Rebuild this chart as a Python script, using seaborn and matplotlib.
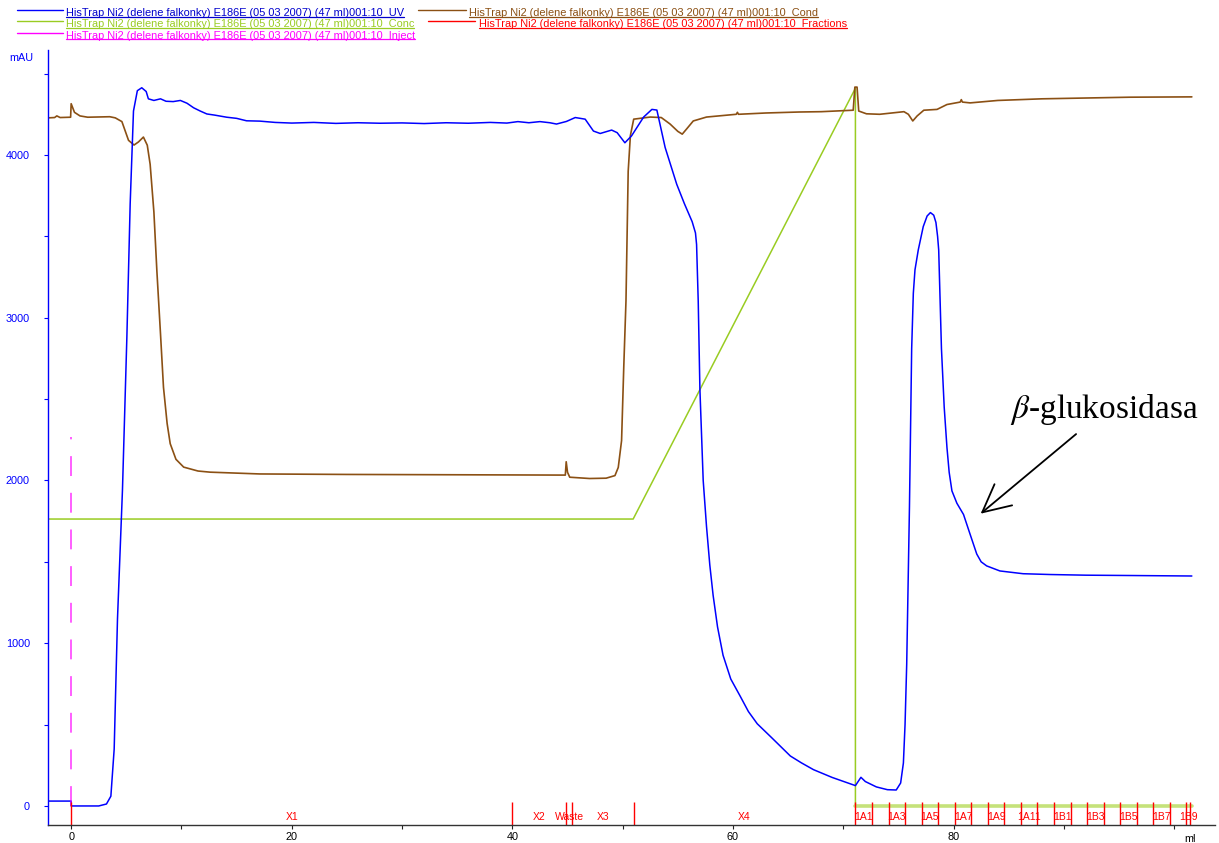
import matplotlib
matplotlib.use("Agg")
import matplotlib.pyplot as plt
from matplotlib.lines import Line2D
from matplotlib.ticker import MultipleLocator, FuncFormatter
import matplotlib.transforms as mtransforms
import seaborn as sns

# chromatogram traces (ml, mAU)
uv_ml = [-2.1, 0.0, 0.0, 2.5, 3.2, 3.6, 3.9, 4.2, 4.65, 5.05, 5.35, 5.65, 6.0, 6.4, 6.8,
         7.0, 7.5, 8.1, 8.6, 9.25, 9.9, 10.5, 11.1, 11.7, 12.3, 13.0, 14.1, 15.0, 15.9,
         17.1, 18.5, 20, 22, 24, 26, 28, 30, 32, 34, 36, 38, 39.5, 40.5, 41.5, 42.5,
         43.4, 44.0, 44.9, 45.7, 46.6, 47.35, 47.96, 49.0, 49.5, 50.2, 50.8, 51.9,
         52.65, 53.1, 53.85, 54.9, 55.6, 56.3, 56.6, 56.7, 56.85, 57.0, 57.3, 57.6,
         57.9, 58.2, 58.6, 59.1, 59.8, 60.65, 61.4, 62.2, 63.5, 65.2, 66.2, 67.3, 69.0,
         71.1, 71.6, 72.0, 73.0, 74.0, 74.8, 75.2, 75.45, 75.6, 75.75, 76.0, 76.2,
         76.35, 76.5, 76.8, 77.25, 77.6, 77.9, 78.2, 78.4, 78.55, 78.65, 78.9, 79.15,
         79.4, 79.6, 79.85, 80.3, 80.9, 81.2, 81.5, 82.1, 82.5, 83.0, 84.2, 86.3, 88.8,
         92, 96, 101.6]
uv_mau = [30, 30, 0, 0, 12, 60, 350, 1150, 1940, 2880, 3700, 4270, 4395, 4413, 4390,
          4345, 4335, 4345, 4330, 4328, 4335, 4318, 4290, 4270, 4252, 4245, 4232, 4225,
          4210, 4208, 4200, 4196, 4200, 4194, 4198, 4195, 4197, 4193, 4198, 4195, 4200,
          4196, 4205, 4198, 4205, 4198, 4190, 4206, 4230, 4220, 4147, 4132, 4153, 4137,
          4075, 4117, 4233, 4280, 4276, 4046, 3820, 3700, 3590, 3521, 3450, 3100, 2564,
          2000, 1718, 1480, 1294, 1100, 926, 780, 675, 580, 505, 420, 307, 265, 223, 175,
          125, 176, 150, 117, 100, 98, 141, 264, 500, 871, 1840, 2810, 3150, 3294, 3417,
          3560, 3625, 3646, 3630, 3585, 3500, 3417, 2810, 2450, 2202, 2050, 1936, 1860,
          1791, 1730, 1669, 1548, 1500, 1475, 1444, 1427, 1422, 1418, 1416, 1413]

cond_ml = [-2.1, -1.5, -1.3, -1.0, -0.05, 0.0, 0.3, 0.8, 1.5, 3.5, 4.0, 4.6, 5.2, 5.7,
           6.1, 6.55, 6.9, 7.16, 7.5, 7.77, 8.1, 8.37, 8.7, 8.98, 9.5, 10.2, 11.5, 12.6,
           17.1, 25, 35, 44.8, 44.88, 45.0, 45.2, 47, 48.5, 49.3, 49.6, 49.9, 50.1, 50.3,
           50.5, 50.7, 51.0, 52.5, 53.5, 54.3, 55.0, 55.4, 55.8, 56.4, 57.6, 60.3, 60.4,
           60.5, 63, 66, 68, 70.9, 71.05, 71.25, 71.4, 72.1, 73.3, 75.5, 75.9, 76.3, 76.7,
           77.3, 78.5, 79.4, 80.6, 80.7, 80.8, 81.5, 84, 88, 92, 96, 101.6]
cond_mau = [4228, 4230, 4240, 4230, 4232, 4315, 4262, 4240, 4232, 4235, 4228, 4205,
            4090, 4061, 4080, 4110, 4060, 3943, 3650, 3288, 2900, 2572, 2350, 2226, 2130,
            2082, 2058, 2051, 2040, 2037, 2035, 2033, 2115, 2050, 2020, 2012, 2014, 2030,
            2080, 2245, 2700, 3104, 3900, 4120, 4220, 4233, 4230, 4190, 4145, 4128, 4160,
            4209, 4233, 4250, 4262, 4250, 4258, 4264, 4266, 4275, 4417, 4417, 4270, 4253,
            4250, 4266, 4250, 4209, 4240, 4275, 4280, 4310, 4325, 4340, 4325, 4320, 4335,
            4345, 4350, 4355, 4357]

conc_ml = [-2.1, 50.95, 71.1, 71.1, 101.6]
conc_mau = [1763, 1763, 4410, 0, 0]

inject_ml = [0.0, 0.0]
inject_mau = [0, 2270]

frac_ml = [0.0, 40.0, 44.9, 45.4, 51.0,
           71.1, 72.6, 74.1, 75.6, 77.1, 78.6, 80.1, 81.6, 83.1, 84.6, 86.1,
           87.6, 89.1, 90.6, 92.1, 93.6, 95.1, 96.6, 98.1, 99.6, 101.1, 101.45]
frac_names = ['X1', 'X2', 'Waste', 'X3', 'X4',
              '1A1', '', '1A3', '', '1A5', '', '1A7', '', '1A9', '', '1A11', '',
              '1B1', '', '1B3', '', '1B5', '', '1B7', '', '1B9']

run_name = "HisTrap Ni2 (delene falkonky) E186E (05 03 2007) (47 ml)001:10  "
legend_curves = ["UV", "Cond", "Conc", "Fractions", "Inject"]

BLUE = "#0000ff"
BROWN = "#8b5014"
GREEN = "#99cc22"
RED = "#ff0000"
MAGENTA = "#ff00ff"

W, H = 1219, 843
YMIN, YMAX = -117, 4645

sns.set_style("white")
plt.rcParams['font.family'] = ['Liberation Sans', 'DejaVu Sans']
plt.rcParams['mathtext.fontset'] = 'stix'

fig = plt.figure(figsize=(W / 100, H / 100), dpi=100)
ax = fig.add_axes([48 / W, 1 - 825 / H, (1215 - 48) / W, (825 - 50) / H])

sns.lineplot(x=conc_ml, y=conc_mau, ax=ax, color=GREEN, lw=1.1, sort=False, estimator=None)
tail = [i for i in range(len(conc_ml)) if conc_ml[i] >= 71.1 and conc_mau[i] == 0]
sns.lineplot(x=[conc_ml[i] for i in tail], y=[conc_mau[i] for i in tail], ax=ax,
             color="#c5e27a", lw=2.6, sort=False, estimator=None)
sns.lineplot(x=cond_ml, y=cond_mau, ax=ax, color=BROWN, lw=1.2, sort=False, estimator=None)
sns.lineplot(x=uv_ml, y=uv_mau, ax=ax, color=BLUE, lw=1.1, sort=False, estimator=None)
ax.plot(inject_ml, inject_mau, color=MAGENTA, lw=1.1, dashes=(13, 11), alpha=0.8)

# fraction marks and names
ax.vlines(frac_ml, YMIN, 25, color=RED, lw=1)
for i, name in enumerate(frac_names):
    if name:
        mid = (frac_ml[i] + frac_ml[i + 1]) / 2
        ax.text(mid, -68, name, color=RED, fontsize=7.5, ha='center', va='center')

ax.set_xlim(-2.1, 103.7)
ax.set_ylim(YMIN, YMAX)
ax.set_xlabel("")
ax.set_ylabel("")

ax.xaxis.set_major_locator(MultipleLocator(10))
ax.xaxis.set_major_formatter(FuncFormatter(
    lambda v, p: f"{v:.0f}" if round(v) % 20 == 0 and v < 99 else ""))
ax.yaxis.set_major_locator(MultipleLocator(500))
ax.yaxis.set_major_formatter(FuncFormatter(
    lambda v, p: f"{v:.0f}" if round(v) % 1000 == 0 else ""))
ax.tick_params(axis='x', direction='out', length=3, width=0.8, pad=2,
               labelsize=7.8, colors='#222222', labelcolor='black', bottom=True)
ax.tick_params(axis='y', direction='out', length=3, width=0.8, pad=10,
               labelsize=7.8, colors=BLUE, labelcolor=BLUE, left=True)
for side in ('top', 'right'):
    ax.spines[side].set_visible(False)
ax.spines['left'].set_color(BLUE)
ax.spines['left'].set_linewidth(1.0)
ax.spines['bottom'].set_color('#333333')
ax.spines['bottom'].set_linewidth(1.0)

trans = mtransforms.blended_transform_factory(ax.transData, ax.transAxes)
ax.text(101.4, -0.012, "ml", transform=trans, fontsize=7.8, color='black',
        ha='center', va='top')
fig.text(9 / W, 1 - 58 / H, "mAU", color=BLUE, fontsize=7.8, va='center')

# peak annotation
ax.annotate("", xy=(82.26, 1785), xytext=(91.3, 2296),
            arrowprops=dict(arrowstyle="->,head_length=0.9,head_width=0.45",
                            color='black', lw=1.3, mutation_scale=22))
ax.text(85.1, 2384, r"$\beta$-glukosidasa", fontsize=24, ha='left', va='baseline',
        color='black', family=['Liberation Serif', 'DejaVu Serif'])

# header legend of the run curves
legend_pos = {"UV": (17, 63, 10, 66, 12.7, 17),
              "Cond": (418, 466, 10, 469, 12.7, 17),
              "Conc": (17, 63, 21.3, 66, 24, 28),
              "Fractions": (428, 475, 21.3, 479, 24, 28),
              "Inject": (17, 63, 32.7, 66, 35.7, 39)}
legend_color = {"UV": BLUE, "Cond": BROWN, "Conc": GREEN, "Fractions": RED, "Inject": MAGENTA}
text_color = {"UV": "#0000cc", "Cond": BROWN, "Conc": GREEN, "Fractions": RED, "Inject": MAGENTA}

fig.canvas.draw()
renderer = fig.canvas.get_renderer()
for curve in legend_curves:
    x0, x1, ly, tx, ty, uy = legend_pos[curve]
    fig.add_artist(Line2D([x0 / W, x1 / W], [1 - ly / H, 1 - ly / H],
                          color=legend_color[curve], lw=1.0, transform=fig.transFigure))
    t = fig.text(tx / W, 1 - ty / H, run_name + curve, color=text_color[curve],
                 fontsize=7.9, va='center', ha='left')
    bb = t.get_window_extent(renderer)
    fig.add_artist(Line2D([bb.x0 / W, bb.x1 / W], [1 - uy / H, 1 - uy / H],
                          color=text_color[curve], lw=0.9, transform=fig.transFigure))

fig.savefig("out.png", dpi=100)
